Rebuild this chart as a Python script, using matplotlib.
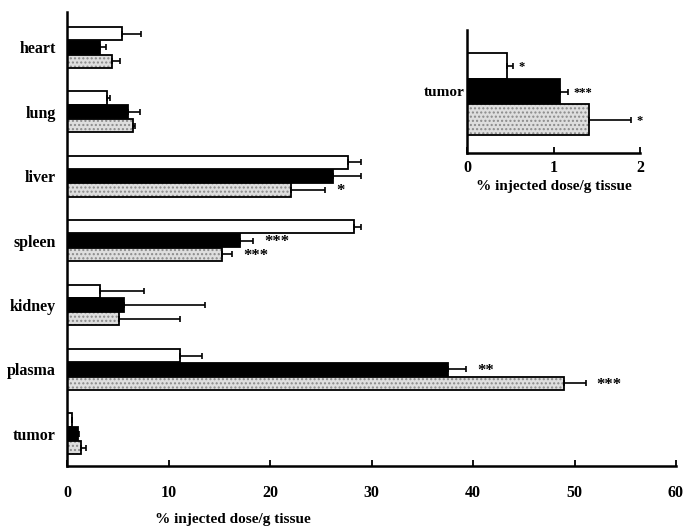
import matplotlib
matplotlib.use("Agg")
import matplotlib.pyplot as plt
import numpy as np

plt.rcParams['font.family'] = ['Liberation Serif', 'DejaVu Serif']
plt.rcParams['font.weight'] = 'bold'

# Data (main panel), order top-to-bottom as shown
organs = ["heart", "lung", "liver", "spleen", "kidney", "plasma", "tumor"]
white_vals = [5.4, 3.9, 27.7, 28.3, 3.3, 11.1, 0.45]
white_err = [1.9, 0.3, 1.3, 0.7, 4.3, 2.2, 0.07]
black_vals = [3.3, 6.0, 26.2, 17.0, 5.6, 37.5, 1.07]
black_err = [0.5, 1.2, 2.8, 1.3, 8.0, 1.8, 0.1]
grey_vals = [4.4, 6.5, 22.1, 15.3, 5.1, 49.0, 1.41]
grey_err = [0.8, 0.2, 3.3, 1.0, 6.0, 2.1, 0.49]

# significance marks: (organ, series, text)
sig_main = [("liver", "grey", "*"), ("spleen", "black", "***"), ("spleen", "grey", "***"),
            ("plasma", "black", "**"), ("plasma", "grey", "***")]
# inset (tumor only)
inset_vals = [0.46, 1.07, 1.41]
inset_err = [0.07, 0.1, 0.49]
inset_sig = ["*", "***", "*"]

main_xticks = [0, 10, 20, 30, 40, 50, 60]
inset_xticks = [0, 1, 2]
xlabel = "% injected dose/g tissue"

W, H = 687, 528
fig = plt.figure(figsize=(W / 100, H / 100), dpi=100)

def ax_rect(l, r, t, b):
    return [l / W, 1 - b / H, (r - l) / W, (b - t) / H]

GREY_FACE = "#dedede"
GREY_HATCH = "#8a8a8a"

def draw_bars(ax, ys, vals, errs, kind, h):
    vals = np.asarray(vals)
    errs = np.asarray(errs)
    if kind == "white":
        ax.barh(ys, vals, height=h, color="white", edgecolor="black", linewidth=1.3, zorder=2)
    elif kind == "black":
        ax.barh(ys, vals, height=h, color="black", edgecolor="black", linewidth=1.3, zorder=2)
    else:
        ax.barh(ys, vals, height=h, color=GREY_FACE, edgecolor=GREY_HATCH, hatch="....",
                linewidth=0, zorder=2)
        ax.barh(ys, vals, height=h, color="none", edgecolor="black", linewidth=1.3, zorder=3)
    ax.errorbar(vals, ys, xerr=[np.zeros_like(errs), errs], fmt="none", ecolor="black",
                elinewidth=1.2, capsize=2.5, capthick=1.2, zorder=4)

# ---- main panel ----
ax = fig.add_axes(ax_rect(67, 676, 12, 466))
n = len(organs)
centers = np.arange(n)[::-1].astype(float)  # heart on top
off = 0.215
h = 0.205
draw_bars(ax, centers + off, white_vals, white_err, "white", h)
draw_bars(ax, centers, black_vals, black_err, "black", h)
draw_bars(ax, centers - off, grey_vals, grey_err, "grey", h)

series = {"white": (white_vals, white_err, off), "black": (black_vals, black_err, 0.0),
          "grey": (grey_vals, grey_err, -off)}
for organ, s, txt in sig_main:
    i = organs.index(organ)
    v, e, o = series[s]
    ax.annotate(txt, xy=(v[i] + e[i], centers[i] + o), xytext=(8, -1), textcoords="offset points",
                ha="left", va="center", fontsize=12, fontweight="bold")

ax.set_xlim(0, 60)
ax.set_ylim(-0.5, 6.55)
ax.set_yticks(centers)
ax.set_yticklabels(organs, fontsize=11.5, fontweight="bold")
ax.tick_params(axis="y", length=0, pad=8)
ax.set_xticks(main_xticks)
ax.set_xticklabels([str(t) for t in main_xticks], fontsize=11.5, fontweight="bold")
ax.tick_params(axis="x", direction="in", length=4, width=1.3, pad=14)
for sp in ["top", "right"]:
    ax.spines[sp].set_visible(False)
for sp in ["left", "bottom"]:
    ax.spines[sp].set_linewidth(1.8)
fig.text(233 / W, 1 - 519 / H, xlabel, ha="center", va="center", fontsize=11, fontweight="bold")

# ---- inset ----
ax2 = fig.add_axes(ax_rect(467, 640, 30, 153))
ih = 0.21
iys = [0.21, 0.0, -0.23]
kinds = ["white", "black", "grey"]
for y, v, e, k in zip(iys, inset_vals, inset_err, kinds):
    draw_bars(ax2, [y], [v], [e], k, ih if k != "grey" else 0.25)
for y, v, e, t in zip(iys, inset_vals, inset_err, inset_sig):
    ax2.annotate(t, xy=(v + e, y), xytext=(4, -1), textcoords="offset points",
                 ha="left", va="center", fontsize=9, fontweight="bold")
ax2.set_xlim(0, 2)
ax2.set_ylim(-0.5, 0.5)
ax2.set_yticks([0])
ax2.set_yticklabels(["tumor"], fontsize=11, fontweight="bold")
ax2.tick_params(axis="y", length=0, pad=2)
ax2.set_xticks(inset_xticks)
ax2.set_xticklabels([str(t) for t in inset_xticks], fontsize=11.5, fontweight="bold")
ax2.tick_params(axis="x", direction="in", length=4, width=1.3, pad=5)
for sp in ["top", "right"]:
    ax2.spines[sp].set_visible(False)
for sp in ["left", "bottom"]:
    ax2.spines[sp].set_linewidth(1.8)
ax2.set_xlabel(xlabel, fontsize=11, fontweight="bold", labelpad=3)

fig.savefig("out.png", dpi=100)
